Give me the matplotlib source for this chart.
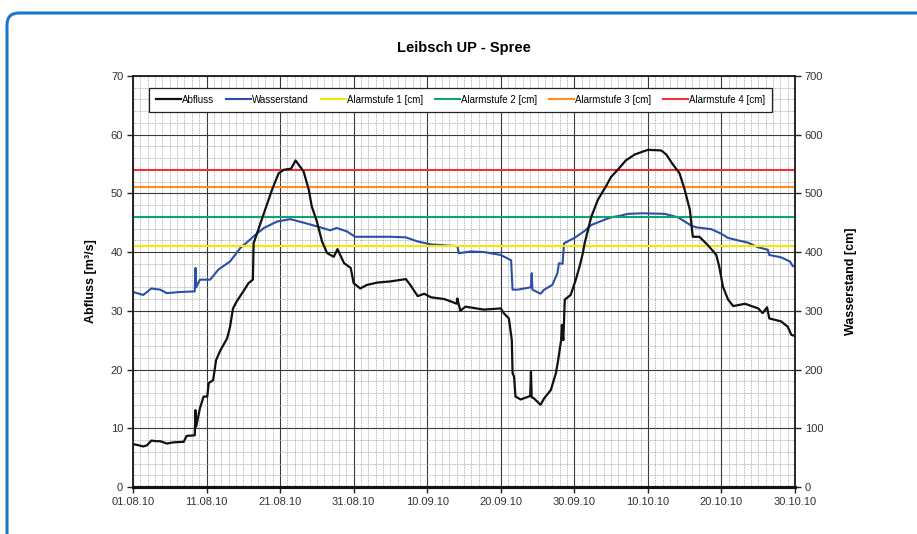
import datetime as dt

import matplotlib
matplotlib.use("Agg")
import matplotlib.pyplot as plt
import matplotlib.dates as mdates
from matplotlib.patches import FancyBboxPatch
from matplotlib.ticker import MultipleLocator
from matplotlib.transforms import IdentityTransform

plt.rcParams["font.family"] = ["Liberation Sans", "DejaVu Sans"]

START = dt.datetime(2010, 8, 1)

# Abfluss [m³/s], time in days since 01.08.2010
q_days = [0.0, 0.8, 1.4, 1.9, 2.5, 3.2, 3.7, 4.6, 5.5, 6.9, 7.3, 8.4, 8.5, 8.6,
          9.1, 9.6, 10.1, 10.3, 10.9, 11.3, 11.9, 12.8, 13.2, 13.6, 14.1, 15.0,
          15.7, 16.3, 16.4, 17.8, 18.9, 19.8, 20.5, 21.5, 22.1, 22.8, 23.2,
          23.9, 24.3, 25.0, 25.7, 26.4, 27.3, 27.8, 28.7, 29.6, 30.0, 30.9,
          31.8, 33.2, 35.0, 37.1, 37.7, 38.7, 39.6, 40.5, 42.3, 43.2, 44.0,
          44.1, 44.5, 45.2, 47.7, 50.0, 50.4, 51.1, 51.5, 51.6, 51.8, 52.0,
          52.7, 54.0, 54.1, 54.2, 54.5, 55.4, 55.9, 56.8, 57.5, 57.8, 58.2,
          58.3, 58.5, 58.7, 59.5, 60.2, 60.7, 61.1, 61.4, 62.3, 63.2, 64.3,
          65.0, 65.9, 67.0, 68.2, 69.3, 70.0, 71.8, 72.5, 73.4, 74.3, 75.0,
          75.7, 76.1, 77.0, 78.2, 79.3, 79.7, 80.2, 80.9, 81.6, 83.2, 85.0,
          85.6, 86.2, 86.5, 88.1, 89.0, 89.5, 90.0]
abfluss = [7.3, 7.1, 6.9, 7.1, 7.9, 7.8, 7.8, 7.4, 7.6, 7.7, 8.7, 8.8, 13.1, 10.3,
           13.4, 15.4, 15.4, 17.7, 18.2, 21.6, 23.3, 25.3, 27.3, 30.4, 31.6, 33.3,
           34.7, 35.3, 41.5, 46.6, 50.6, 53.4, 54.0, 54.2, 55.6, 54.4, 53.7,
           50.6, 47.8, 45.2, 41.8, 39.8, 39.2, 40.5, 38.1, 37.3, 34.7, 33.8,
           34.4, 34.8, 35.0, 35.4, 34.4, 32.5, 32.9, 32.3, 32.0, 31.6, 31.2,
           32.1, 30.0, 30.7, 30.2, 30.4, 29.6, 28.7, 25.0, 19.4, 18.8, 15.4,
           14.9, 15.5, 19.6, 15.3, 15.1, 14.0, 15.1, 16.5, 19.4, 21.6, 25.0,
           27.6, 25.0, 31.9, 32.7, 35.3, 37.5, 39.5, 41.5, 46.0, 48.9, 51.2,
           52.8, 54.0, 55.6, 56.6, 57.1, 57.4, 57.3, 56.6, 54.9, 53.4, 50.6,
           47.2, 42.6, 42.6, 41.1, 39.5, 37.5, 34.1, 31.9, 30.8, 31.2, 30.4,
           29.6, 30.6, 28.7, 28.2, 27.3, 25.9, 25.7]

# Wasserstand [cm]
w_days = [0.0, 1.4, 2.5, 3.7, 4.6, 6.4, 8.4, 8.5, 8.6, 9.1, 10.5, 11.6, 13.2,
          14.6, 15.9, 16.6, 17.8, 19.6, 21.4, 23.2, 25.5, 26.8, 27.7, 29.1,
          30.2, 35.0, 37.1, 38.7, 40.5, 44.1, 44.3, 45.9, 47.7, 50.0, 51.4,
          51.6, 52.3, 54.1, 54.2, 54.3, 55.4, 55.9, 57.0, 57.7, 57.9, 58.4,
          58.6, 60.0, 61.3, 62.3, 64.1, 65.0, 66.3, 67.3, 69.3, 72.3, 74.1,
          75.9, 76.6, 78.6, 80.0, 80.9, 82.2, 83.6, 85.0, 86.3, 86.5, 88.1,
          89.3, 89.7, 90.0]
wasserstand = [332, 327, 338, 336, 330, 332, 333, 373, 340, 353, 353, 370, 384,
               407, 421, 429, 441, 452, 456, 450, 442, 437, 441, 435,
               426, 426, 425, 418, 413, 410, 398, 401, 400, 395, 386,
               336, 336, 340, 364, 336, 329, 336, 344, 364, 381, 380,
               415, 424, 435, 446, 455, 459, 462, 465, 466, 465, 459,
               445, 442, 439, 431, 424, 420, 416, 408, 404, 395, 391,
               384, 376, 376]

alarm_names = ["Alarmstufe 1 [cm]", "Alarmstufe 2 [cm]",
               "Alarmstufe 3 [cm]", "Alarmstufe 4 [cm]"]
alarm_levels = [410, 460, 510, 540]
alarm_colors = ["#f2ea00", "#12a372", "#ff8c1e", "#f2303a"]


def to_dates(days):
    return [START + dt.timedelta(days=d) for d in days]


fig = plt.figure(figsize=(9.17, 5.34), dpi=100)
fig.add_artist(FancyBboxPatch((7, -40), 960, 561, boxstyle="round,pad=0,rounding_size=12",
                              transform=IdentityTransform(), fill=False,
                              edgecolor="#1a78c8", linewidth=2.2))

# right axis (cm) sits underneath and carries the grid
ax2 = fig.add_axes([0.145, 0.088, 0.722, 0.770])
ax1 = ax2.twinx()
ax1.set_zorder(ax2.get_zorder() + 1)
ax1.patch.set_visible(False)
ax2.yaxis.tick_right()
ax2.yaxis.set_label_position("right")
ax1.yaxis.tick_left()
ax1.yaxis.set_label_position("left")

line_w, = ax2.plot(to_dates(w_days), wasserstand, color="#2b4fa8", lw=1.5,
                   label="Wasserstand")
alarm_lines = []
for name, lvl, col in zip(alarm_names, alarm_levels, alarm_colors):
    alarm_lines.append(ax2.axhline(lvl, color=col, lw=1.5, label=name))

line_q, = ax1.plot(to_dates(q_days), abfluss, color="#111111", lw=1.6,
                   label="Abfluss")

ax2.set_xlim(START, START + dt.timedelta(days=90))
ax2.set_ylim(0, 700)
ax1.set_ylim(0, 70)

ticks = [START + dt.timedelta(days=10 * i) for i in range(10)]
ax2.set_xticks(ticks)
ax2.xaxis.set_major_formatter(mdates.DateFormatter("%d.%m.%y"))
ax2.xaxis.set_minor_locator(mdates.DayLocator())
ax2.yaxis.set_major_locator(MultipleLocator(100))
ax2.yaxis.set_minor_locator(MultipleLocator(20))
ax1.yaxis.set_major_locator(MultipleLocator(10))

ax2.grid(which="minor", color="#a0a0a0", lw=0.6, ls=(0, (1, 1)))
ax2.grid(which="major", color="#3a3a3a", lw=0.8)
ax2.set_axisbelow(True)

for ax in (ax1, ax2):
    ax.tick_params(which="major", labelsize=8, length=4, width=1, colors="#222222",
                   labelcolor="#333333", pad=3)
    ax.tick_params(which="minor", length=0)
    for side in ("left", "right", "top"):
        ax.spines[side].set_linewidth(1.1)
        ax.spines[side].set_color("#222222")
    ax.spines["bottom"].set_linewidth(2.2)
    ax.spines["bottom"].set_color("#111111")

ax1.set_ylabel("Abfluss [m³/s]", fontsize=9, fontweight="bold", labelpad=10)
ax2.set_ylabel("Wasserstand [cm]", fontsize=9, fontweight="bold", labelpad=16,
               rotation=90)
ax2.set_title("Leibsch UP - Spree", fontsize=10.5, fontweight="bold", pad=17)

handles = [line_q, line_w] + alarm_lines
leg = ax1.legend(handles=handles, loc="upper center", ncol=6, fontsize=7,
                 bbox_to_anchor=(0.495, 0.982), frameon=True, fancybox=False,
                 handlelength=2.6, handletextpad=0.1, columnspacing=1.2,
                 borderpad=0.7)
leg.get_frame().set_edgecolor("#222222")
leg.get_frame().set_linewidth(0.9)
leg.get_frame().set_alpha(1)

fig.savefig("out.png", dpi=100)
